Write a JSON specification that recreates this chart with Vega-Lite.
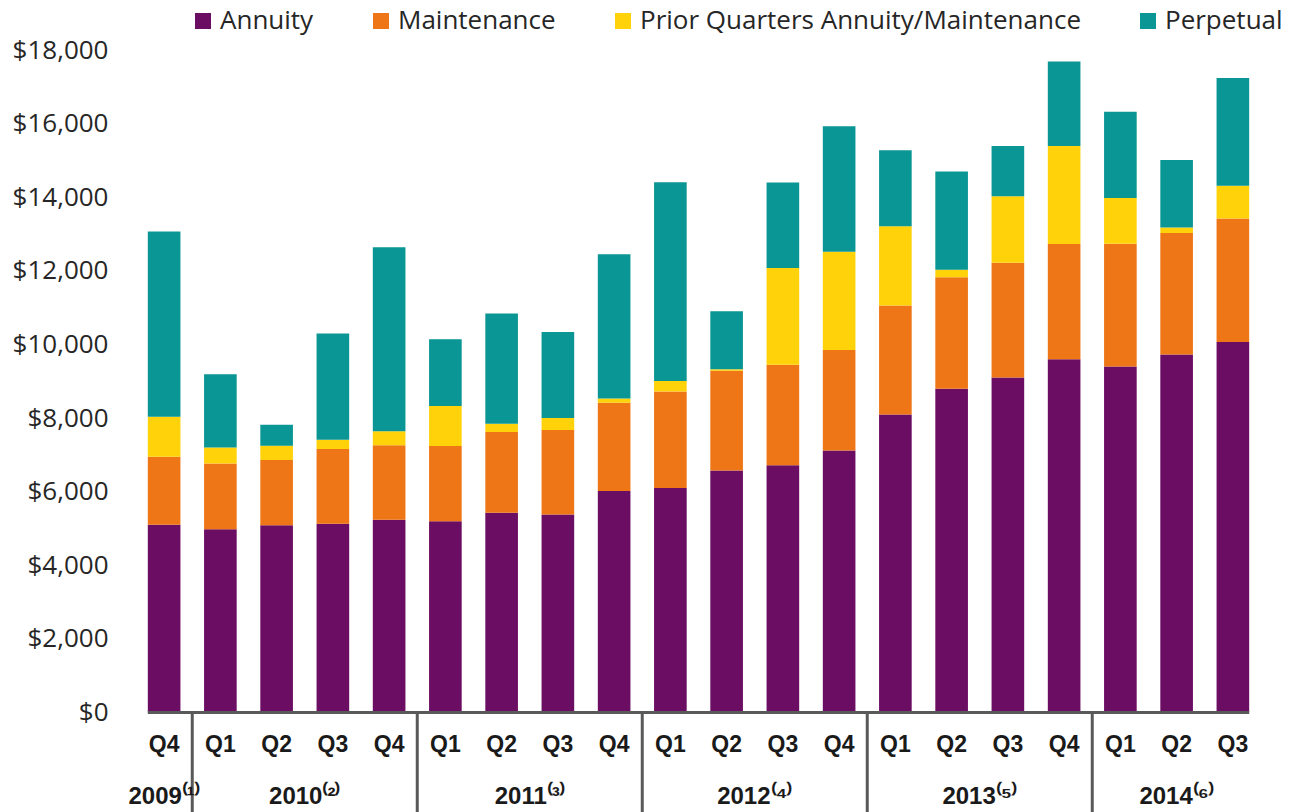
{
  "$schema": "https://vega.github.io/schema/vega-lite/v6.json",
  "autosize": {"type": "none"},
  "padding": {"left": 136, "top": 50, "right": 36, "bottom": 0},
  "width": 1125,
  "height": 762,
  "config": {"view": {"stroke": null}, "font": "Open Sans"},
  "datasets": {
    "seriesInfo": [
      {"series": "Annuity", "rank": 1},
      {"series": "Maintenance", "rank": 2},
      {"series": "Prior Quarters Annuity/Maintenance", "rank": 3},
      {"series": "Perpetual", "rank": 4}
    ]
  },
  "data": {"values": [
    {"q": "2009 Q4", "ql": "Q4", "Annuity": 5100, "Maintenance": 1850, "Prior Quarters Annuity/Maintenance": 1090, "Perpetual": 5030},
    {"q": "2010 Q1", "ql": "Q1", "Annuity": 4980, "Maintenance": 1790, "Prior Quarters Annuity/Maintenance": 430, "Perpetual": 1990},
    {"q": "2010 Q2", "ql": "Q2", "Annuity": 5090, "Maintenance": 1770, "Prior Quarters Annuity/Maintenance": 390, "Perpetual": 570},
    {"q": "2010 Q3", "ql": "Q3", "Annuity": 5130, "Maintenance": 2030, "Prior Quarters Annuity/Maintenance": 250, "Perpetual": 2890},
    {"q": "2010 Q4", "ql": "Q4", "Annuity": 5240, "Maintenance": 2020, "Prior Quarters Annuity/Maintenance": 380, "Perpetual": 5000},
    {"q": "2011 Q1", "ql": "Q1", "Annuity": 5200, "Maintenance": 2040, "Prior Quarters Annuity/Maintenance": 1090, "Perpetual": 1810},
    {"q": "2011 Q2", "ql": "Q2", "Annuity": 5430, "Maintenance": 2190, "Prior Quarters Annuity/Maintenance": 230, "Perpetual": 2990},
    {"q": "2011 Q3", "ql": "Q3", "Annuity": 5380, "Maintenance": 2300, "Prior Quarters Annuity/Maintenance": 320, "Perpetual": 2340},
    {"q": "2011 Q4", "ql": "Q4", "Annuity": 6020, "Maintenance": 2400, "Prior Quarters Annuity/Maintenance": 110, "Perpetual": 3920},
    {"q": "2012 Q1", "ql": "Q1", "Annuity": 6100, "Maintenance": 2620, "Prior Quarters Annuity/Maintenance": 290, "Perpetual": 5400},
    {"q": "2012 Q2", "ql": "Q2", "Annuity": 6580, "Maintenance": 2710, "Prior Quarters Annuity/Maintenance": 40, "Perpetual": 1570},
    {"q": "2012 Q3", "ql": "Q3", "Annuity": 6720, "Maintenance": 2730, "Prior Quarters Annuity/Maintenance": 2630, "Perpetual": 2320},
    {"q": "2012 Q4", "ql": "Q4", "Annuity": 7120, "Maintenance": 2730, "Prior Quarters Annuity/Maintenance": 2670, "Perpetual": 3410},
    {"q": "2013 Q1", "ql": "Q1", "Annuity": 8100, "Maintenance": 2960, "Prior Quarters Annuity/Maintenance": 2150, "Perpetual": 2070},
    {"q": "2013 Q2", "ql": "Q2", "Annuity": 8800, "Maintenance": 3030, "Prior Quarters Annuity/Maintenance": 200, "Perpetual": 2670},
    {"q": "2013 Q3", "ql": "Q3", "Annuity": 9100, "Maintenance": 3120, "Prior Quarters Annuity/Maintenance": 1810, "Perpetual": 1360},
    {"q": "2013 Q4", "ql": "Q4", "Annuity": 9600, "Maintenance": 3130, "Prior Quarters Annuity/Maintenance": 2660, "Perpetual": 2300},
    {"q": "2014 Q1", "ql": "Q1", "Annuity": 9400, "Maintenance": 3340, "Prior Quarters Annuity/Maintenance": 1240, "Perpetual": 2340},
    {"q": "2014 Q2", "ql": "Q2", "Annuity": 9730, "Maintenance": 3300, "Prior Quarters Annuity/Maintenance": 150, "Perpetual": 1830},
    {"q": "2014 Q3", "ql": "Q3", "Annuity": 10070, "Maintenance": 3350, "Prior Quarters Annuity/Maintenance": 890, "Perpetual": 2930}
  ]},
  "layer": [
    {
      "transform": [
        {"fold": ["Annuity", "Maintenance", "Prior Quarters Annuity/Maintenance", "Perpetual"], "as": ["series", "value"]},
        {"lookup": "series", "from": {"data": {"name": "seriesInfo"}, "key": "series", "fields": ["rank"]}}
      ],
      "mark": {"type": "bar", "width": {"band": 0.58}},
      "encoding": {
        "x": {"field": "q", "type": "nominal", "scale": {"paddingInner": 0, "paddingOuter": 0}, "axis": null},
        "y": {"field": "value", "type": "quantitative", "stack": "zero",
          "scale": {"domain": [-2700, 18000], "nice": false, "zero": false},
          "axis": {"title": null, "values": [0, 2000, 4000, 6000, 8000, 10000, 12000, 14000, 16000, 18000], "format": "$,.0f", "domain": false, "ticks": false, "grid": false, "labelPadding": 28, "labelFontSize": 26, "labelFont": "Open Sans", "labelColor": "#262626"}},
        "color": {"field": "series", "type": "nominal",
          "sort": ["Annuity", "Maintenance", "Prior Quarters Annuity/Maintenance", "Perpetual"],
          "scale": {"domain": ["Annuity", "Maintenance", "Prior Quarters Annuity/Maintenance", "Perpetual"], "range": ["#6B0D62", "#EE7617", "#FFD20A", "#0A9694"]},
          "legend": {"orient": "none", "legendX": 54, "legendY": -42, "direction": "horizontal", "columns": 4, "columnPadding": 54, "symbolType": "square", "symbolSize": 256, "symbolStrokeWidth": 0, "labelFontSize": 26, "labelFont": "Open Sans", "labelColor": "#262626", "labelOffset": 4, "labelLimit": 0, "title": null}},
        "order": {"field": "rank", "type": "quantitative", "sort": "ascending"}
      }
    },
    {
      "data": {"values": [{"from": "2009 Q4", "to": "2014 Q3", "v": 0}]},
      "mark": {"type": "rule", "color": "#595959", "strokeWidth": 3},
      "encoding": {
        "x": {"field": "from", "type": "nominal", "bandPosition": 0.21},
        "x2": {"field": "to", "bandPosition": 0.79},
        "y": {"field": "v", "type": "quantitative"}
      }
    },
    {
      "mark": {"type": "text", "font": "Liberation Sans", "fontWeight": "bold", "fontSize": 23, "color": "#1a1a1a", "baseline": "middle"},
      "encoding": {
        "x": {"field": "q", "type": "nominal"},
        "y": {"datum": -870},
        "text": {"field": "ql"}
      }
    },
    {
      "data": {"values": [{"q": "2010 Q1"}, {"q": "2011 Q1"}, {"q": "2012 Q1"}, {"q": "2013 Q1"}, {"q": "2014 Q1"}]},
      "mark": {"type": "rule", "color": "#595959", "strokeWidth": 3},
      "encoding": {
        "x": {"field": "q", "type": "nominal", "bandPosition": 0},
        "y": {"datum": 0},
        "y2": {"datum": -2700}
      }
    },
    {
      "data": {"values": [{"q": "2010 Q3", "year": "2010⁽²⁾"}, {"q": "2011 Q3", "year": "2011⁽³⁾"}, {"q": "2012 Q3", "year": "2012⁽⁴⁾"}, {"q": "2013 Q3", "year": "2013⁽⁵⁾"}]},
      "mark": {"type": "text", "font": "Liberation Sans", "fontWeight": "bold", "fontSize": 24, "color": "#1a1a1a", "baseline": "middle"},
      "encoding": {
        "x": {"field": "q", "type": "nominal", "bandPosition": 0},
        "y": {"datum": -2280},
        "text": {"field": "year"}
      }
    },
    {
      "data": {"values": [{"q": "2009 Q4", "year": "2009⁽¹⁾"}, {"q": "2014 Q2", "year": "2014⁽⁶⁾"}]},
      "mark": {"type": "text", "font": "Liberation Sans", "fontWeight": "bold", "fontSize": 24, "color": "#1a1a1a", "baseline": "middle"},
      "encoding": {
        "x": {"field": "q", "type": "nominal", "bandPosition": 0.5},
        "y": {"datum": -2280},
        "text": {"field": "year"}
      }
    }
  ]
}
